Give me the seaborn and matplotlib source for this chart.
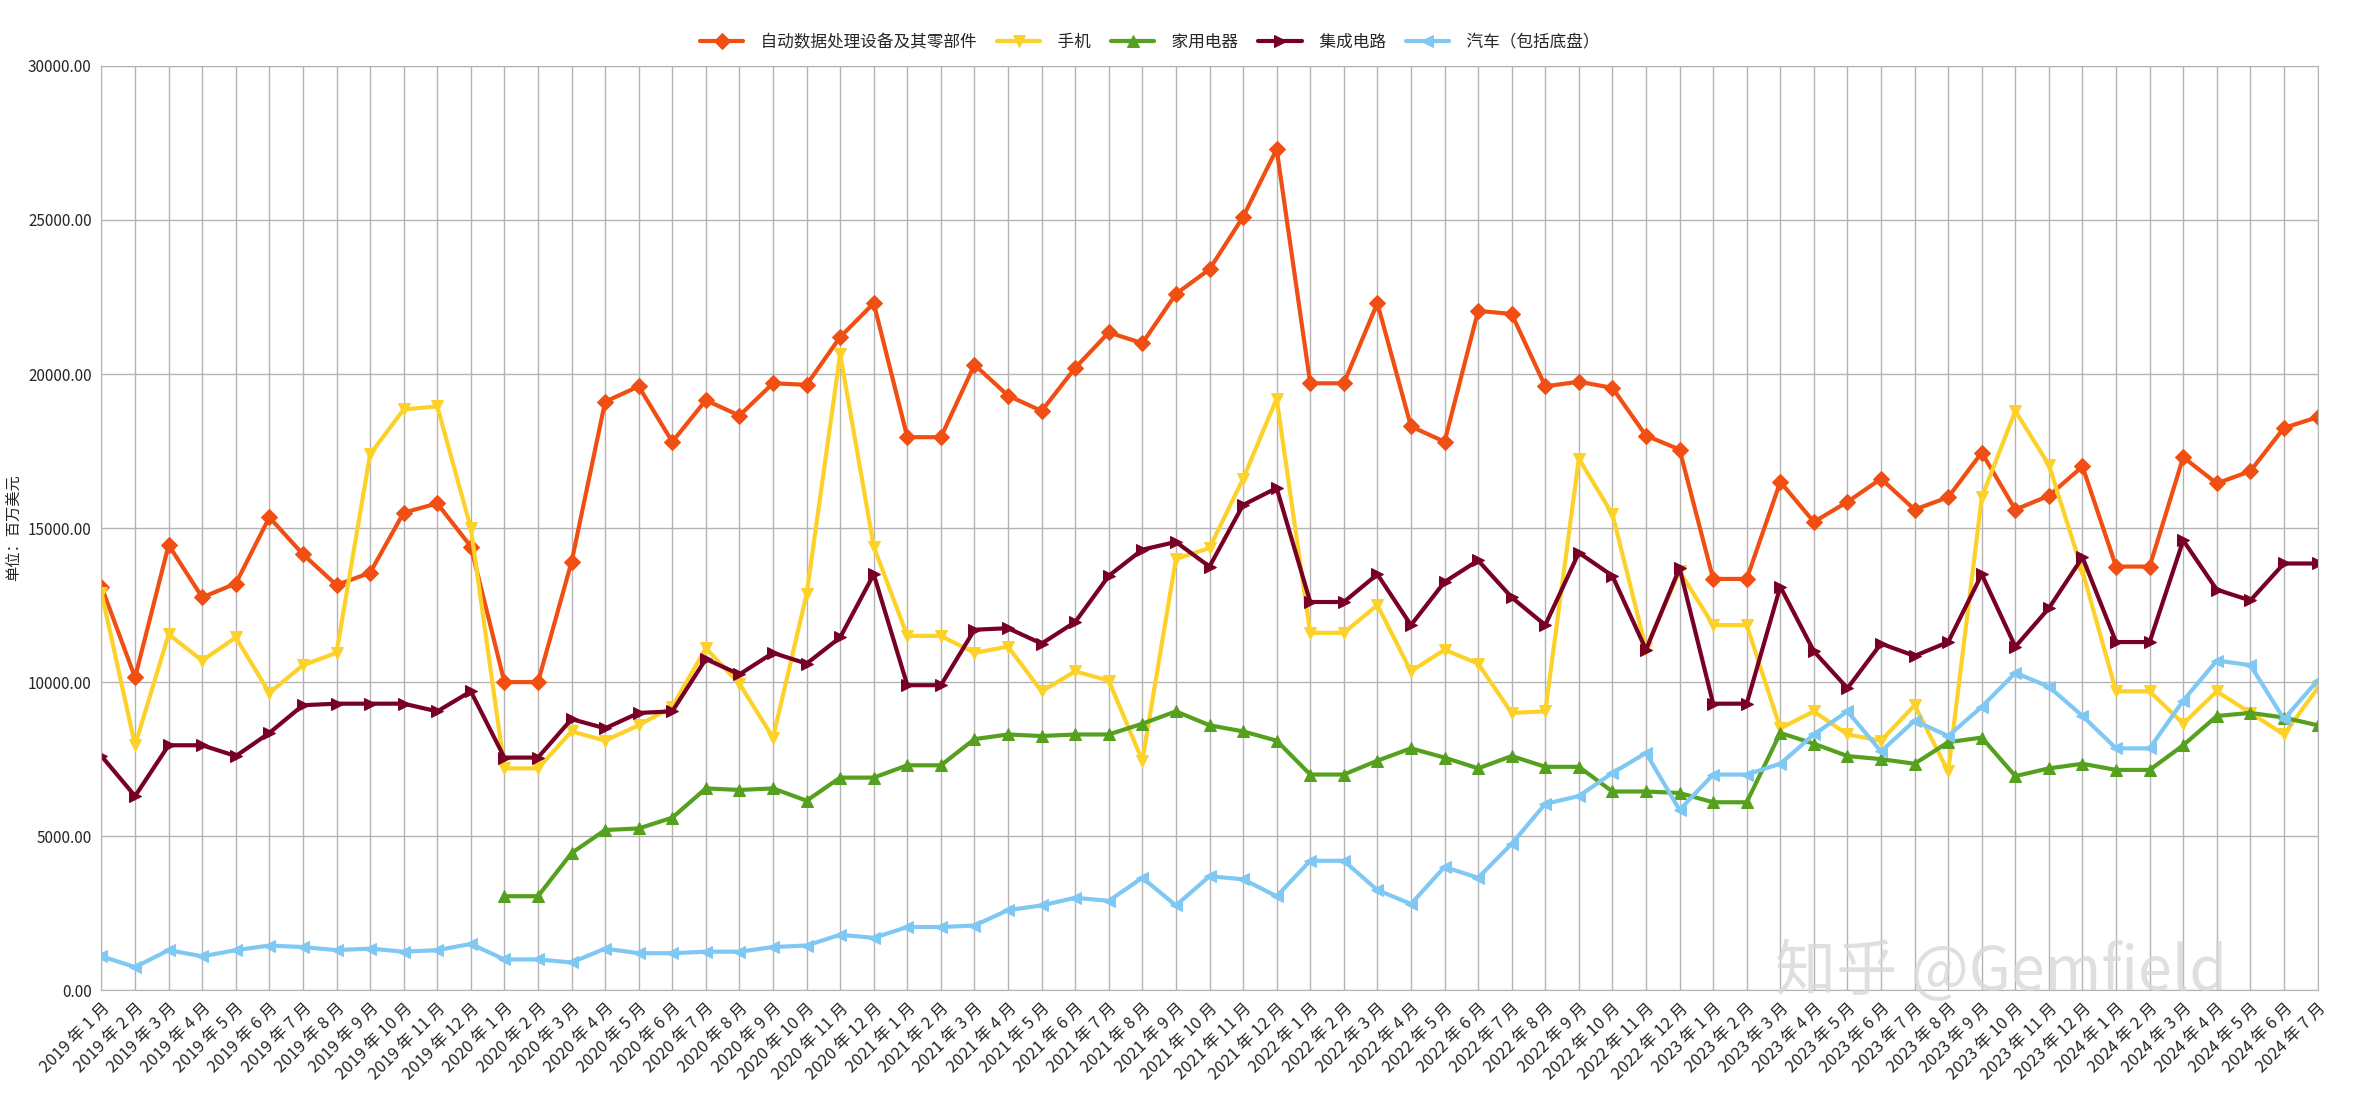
import numpy as np
import pandas as pd
import matplotlib
matplotlib.use('Agg')
import matplotlib.pyplot as plt
import seaborn as sns

sns.set_style('white')
plt.rcParams['font.family'] = ['Noto Sans CJK SC', 'DejaVu Sans']

months = [f"{y} 年 {m} 月" for y in range(2019, 2025) for m in range(1, 13)][:67]

computers = [13100, 10150, 14450, 12750, 13200, 15350, 14150, 13150, 13550, 15500, 15800, 14400,
             10000, 10000, 13900, 19100, 19600, 17800, 19150, 18650, 19700, 19650, 21200, 22300,
             17950, 17950, 20300, 19300, 18800, 20200, 21350, 21000, 22600, 23400, 25100, 27300,
             19700, 19700, 22300, 18300, 17800, 22050, 21950, 19600, 19750, 19550, 18000, 17550,
             13350, 13350, 16500, 15200, 15850, 16600, 15600, 16000, 17450, 15600, 16050, 17000,
             13750, 13750, 17300, 16450, 16850, 18250, 18600]
phones = [12900, 7950, 11550, 10700, 11450, 9650, 10550, 10950, 17400, 18850, 18950, 15000,
          7200, 7200, 8400, 8100, 8600, 9200, 11100, 9950, 8200, 12850, 20650, 14400,
          11500, 11500, 10950, 11150, 9700, 10350, 10050, 7450, 14000, 14350, 16600, 19200,
          11600, 11600, 12500, 10350, 11050, 10600, 9000, 9050, 17250, 15450, 11100, 13600,
          11850, 11850, 8500, 9050, 8300, 8100, 9250, 7100, 16000, 18800, 17050, 13600,
          9700, 9700, 8650, 9700, 9000, 8300, 9800]
appliances = [np.nan] * 12 + [
    3050, 3050, 4450, 5200, 5250, 5600, 6550, 6500, 6550, 6150, 6900, 6900,
    7300, 7300, 8150, 8300, 8250, 8300, 8300, 8650, 9050, 8600, 8400, 8100,
    7000, 7000, 7450, 7850, 7550, 7200, 7600, 7250, 7250, 6450, 6450, 6400,
    6100, 6100, 8350, 8000, 7600, 7500, 7350, 8050, 8200, 6950, 7200, 7350,
    7150, 7150, 7950, 8900, 9000, 8850, 8600]
chips = [7600, 6300, 7950, 7950, 7600, 8350, 9250, 9300, 9300, 9300, 9050, 9700,
         7550, 7550, 8800, 8500, 9000, 9050, 10750, 10250, 10950, 10600, 11450, 13500,
         9900, 9900, 11700, 11750, 11250, 11950, 13450, 14300, 14550, 13750, 15750, 16300,
         12600, 12600, 13500, 11850, 13250, 13950, 12750, 11850, 14200, 13450, 11050, 13700,
         9300, 9300, 13100, 11000, 9800, 11250, 10850, 11300, 13500, 11150, 12400, 14050,
         11300, 11300, 14600, 13000, 12650, 13850, 13850]
cars = [1100, 750, 1300, 1100, 1300, 1450, 1400, 1300, 1350, 1250, 1300, 1500,
        1000, 1000, 900, 1350, 1200, 1200, 1250, 1250, 1400, 1450, 1800, 1700,
        2050, 2050, 2100, 2600, 2750, 3000, 2900, 3650, 2750, 3700, 3600, 3050,
        4200, 4200, 3250, 2800, 4000, 3650, 4750, 6050, 6300, 7050, 7700, 5850,
        7000, 7000, 7350, 8300, 9050, 7750, 8750, 8250, 9200, 10300, 9850, 8900,
        7850, 7850, 9400, 10700, 10550, 8800, 10050]

series = [
    ('自动数据处理设备及其零部件', computers, '#f04e13', 'D'),
    ('手机', phones, '#fcd22a', 'v'),
    ('家用电器', appliances, '#55a01e', '^'),
    ('集成电路', chips, '#780024', '>'),
    ('汽车（包括底盘）', cars, '#80c8f4', '<'),
]

fig, ax = plt.subplots(figsize=(23.6, 10.99), dpi=100)
x = np.arange(len(months))
for name, vals, color, marker in series:
    df = pd.DataFrame({'x': x, 'y': vals})
    sns.lineplot(data=df, x='x', y='y', ax=ax, color=color, marker=marker,
                 markersize=8, markeredgecolor=color, linewidth=3, label='  ' + name)

ax.set_xlim(0, len(months) - 1)
ax.set_ylim(0, 30000)
ax.set_yticks(np.arange(0, 30001, 5000))
ax.set_yticklabels([f"{v:.2f}" for v in np.arange(0, 30001, 5000)], fontsize=11)
ax.set_xticks(x)
ax.set_xticklabels(months, rotation=45, ha='right', rotation_mode='anchor', fontsize=12)
ax.set_xlabel('')
ax.set_ylabel('单位：百万美元', fontsize=11)
ax.grid(True, color='#b3b3b3', linewidth=1)
for s in ax.spines.values():
    s.set_color('#b3b3b3')

ax.legend(loc='lower center', bbox_to_anchor=(0.473, 1.0), ncol=5, frameon=False,
          fontsize=12, handlelength=2.6, columnspacing=1.2, handletextpad=0.6)
ax.text(0.755, 0.0, '知乎 @Gemfield', transform=ax.transAxes, fontsize=44,
        color='#d8d8d8', alpha=0.8)

fig.subplots_adjust(left=0.043, right=0.982, top=0.94, bottom=0.099)
fig.savefig('out.png')
